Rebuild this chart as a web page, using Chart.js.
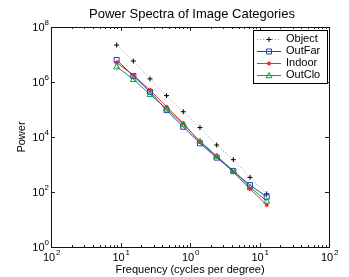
<!DOCTYPE html>
<html>
<head>
<meta charset="utf-8">
<script src="https://cdn.jsdelivr.net/npm/chart.js@4/dist/chart.umd.min.js"></script>
<style>
html, body { margin: 0; padding: 0; background: #fff; }
</style>
</head>
<body>
<canvas id="chart" width="349" height="277"></canvas>
<script>
// frequencies (cycles per degree) and power for each image category
const freq = [0.088, 0.153, 0.266, 0.46, 0.80, 1.39, 2.42, 4.2, 7.3, 12.7];
const objectPower = [2.2e7, 5.8e6, 1.3e6, 3.2e5, 8.3e4, 2.2e4, 5.1e3, 1.5e3, 340, 85];
const outFarPower = [6.3e6, 1.66e6, 4.4e5, 9.5e4, 2.35e4, 5.9e3, 1.78e3, 575, 178, 67];
const indoorPower = [5.0e6, 1.78e6, 5.1e5, 1.26e5, 3.16e4, 6.6e3, 1.95e3, 525, 129, 34];
const outCloPower = [3.6e6, 1.26e6, 3.55e5, 1.07e5, 2.9e4, 7.1e3, 2.04e3, 589, 148, 47];

const xTicks = [0.01, 0.1, 1, 10, 100];
const xTickExp = ['2', '1', '0', '1', '2'];
const yTicks = [1, 1e2, 1e4, 1e6, 1e8];
const yTickExp = ['0', '2', '4', '6', '8'];

const titleText = 'Power Spectra of Image Categories';
const xTitle = 'Frequency (cycles per degree)';
const yTitle = 'Power';

const FONT = '"Liberation Sans", Arial, Helvetica, sans-serif';

function pts(ys) {
    return freq.map((f, i) => ({ x: f, y: ys[i] }));
}

function marker(ctx, style, x, y, color) {
    ctx.save();
    ctx.strokeStyle = color;
    ctx.fillStyle = color;
    ctx.lineWidth = 1;
    ctx.setLineDash([]);
    ctx.beginPath();
    if (style === 'cross') {
        ctx.moveTo(x - 2.5, y); ctx.lineTo(x + 2.5, y);
        ctx.moveTo(x, y - 2.5); ctx.lineTo(x, y + 2.5);
        ctx.stroke();
    } else if (style === 'rect') {
        ctx.rect(x - 2.5, y - 2.5, 5, 5);
        ctx.stroke();
    } else if (style === 'circle') {
        ctx.arc(x, y, 2, 0, Math.PI * 2);
        ctx.fill();
    } else if (style === 'triangle') {
        ctx.moveTo(x, y - 3); ctx.lineTo(x + 3, y + 2.2); ctx.lineTo(x - 3, y + 2.2);
        ctx.closePath();
        ctx.stroke();
    }
    ctx.restore();
}

// tick marks, tick labels, titles, box and legend like a matlab figure
const matlabAxes = {
    id: 'matlabAxes',
    afterDraw(chart) {
        const ctx = chart.ctx;
        const a = chart.chartArea;
        const xs = chart.scales.x;
        const ys = chart.scales.y;
        ctx.save();
        ctx.strokeStyle = '#222';
        ctx.lineWidth = 1;
        ctx.setLineDash([]);

        // x ticks (major + minor), top and bottom
        ctx.beginPath();
        for (let n = -2; n < 2; n++) {
            for (let m = 1; m <= 9; m++) {
                const px = Math.round(xs.getPixelForValue(m * Math.pow(10, n))) + 0.5;
                const len = m === 1 ? 4 : 2;
                ctx.moveTo(px, a.bottom); ctx.lineTo(px, a.bottom - len);
                ctx.moveTo(px, a.top); ctx.lineTo(px, a.top + len);
            }
        }
        yTicks.forEach(v => {
            const py = Math.round(ys.getPixelForValue(v)) + 0.5;
            ctx.moveTo(a.left, py); ctx.lineTo(a.left + 4, py);
            ctx.moveTo(a.right, py); ctx.lineTo(a.right - 4, py);
        });
        ctx.stroke();

        // box
        ctx.strokeStyle = '#111';
        ctx.strokeRect(Math.round(a.left) + 0.5, Math.round(a.top) + 0.5,
            Math.round(a.right - a.left), Math.round(a.bottom - a.top));

        // tick labels with exponents
        ctx.fillStyle = '#000';
        ctx.textBaseline = 'middle';
        xTicks.forEach((v, i) => {
            const px = xs.getPixelForValue(v);
            ctx.font = '11px ' + FONT;
            const w = ctx.measureText('10').width;
            ctx.textAlign = 'left';
            ctx.fillText('10', px - w / 2 - 2, a.bottom + 11);
            ctx.font = '8px ' + FONT;
            ctx.fillText(xTickExp[i], px + w / 2 - 1, a.bottom + 6);
        });
        yTicks.forEach((v, i) => {
            const py = ys.getPixelForValue(v);
            ctx.font = '8px ' + FONT;
            const ew = ctx.measureText(yTickExp[i]).width;
            ctx.textAlign = 'right';
            ctx.fillText(yTickExp[i], a.left - 2, py - 4);
            ctx.font = '11px ' + FONT;
            ctx.fillText('10', a.left - 2 - ew, py + 1);
        });

        // titles
        const cx = (a.left + a.right) / 2;
        ctx.textAlign = 'center';
        ctx.font = '13px ' + FONT;
        ctx.fillText(titleText, cx + 2, 14);
        ctx.font = '11px ' + FONT;
        ctx.fillText(xTitle, cx, a.bottom + 23);
        ctx.save();
        ctx.translate(22, (a.top + a.bottom) / 2);
        ctx.rotate(-Math.PI / 2);
        ctx.fillText(yTitle, 0, 0);
        ctx.restore();

        // legend
        const lx = a.right - 76, ly = a.top + 3;
        ctx.fillStyle = '#fff';
        ctx.fillRect(lx, ly, 74, 53);
        ctx.strokeStyle = '#000';
        ctx.strokeRect(lx + 0.5, ly + 0.5, 74, 53);
        chart.data.datasets.forEach((ds, i) => {
            const ry = ly + 8.5 + i * 12.2;
            ctx.save();
            ctx.strokeStyle = ds.borderColor;
            ctx.lineWidth = ds.borderWidth;
            ctx.setLineDash(ds.borderDash || []);
            ctx.beginPath();
            ctx.moveTo(lx + 4, Math.round(ry) + 0.5);
            ctx.lineTo(lx + 28, Math.round(ry) + 0.5);
            ctx.stroke();
            ctx.restore();
            marker(ctx, ds.pointStyle, lx + 16, Math.round(ry) + 0.5, ds.pointBorderColor);
            ctx.fillStyle = '#000';
            ctx.font = '11px ' + FONT;
            ctx.textAlign = 'left';
            ctx.fillText(ds.label, lx + 33, ry);
        });
        ctx.restore();
    }
};

// draw markers ourselves so + and open shapes look like matlab
const matlabMarkers = {
    id: 'matlabMarkers',
    afterDatasetsDraw(chart) {
        const ctx = chart.ctx;
        chart.data.datasets.forEach((ds, i) => {
            chart.getDatasetMeta(i).data.forEach(pt => {
                marker(ctx, ds.pointStyle, pt.x, pt.y, ds.pointBorderColor);
            });
        });
    }
};

const chart = document.querySelector('#chart').getContext('2d');
new Chart(chart, {
    type: 'line',
    data: {
        datasets: [
            {
                label: 'Object',
                data: pts(objectPower),
                borderColor: '#9a9a9a',
                borderWidth: 1,
                borderDash: [1, 2],
                pointStyle: 'cross',
                pointBorderColor: '#000',
                pointRadius: 0,
            },
            {
                label: 'OutFar',
                data: pts(outFarPower),
                borderColor: '#2a3cb0',
                borderWidth: 1,
                pointStyle: 'rect',
                pointBorderColor: '#2a3cb0',
                pointRadius: 0,
            },
            {
                label: 'Indoor',
                data: pts(indoorPower),
                borderColor: '#ee2a2a',
                borderWidth: 1,
                pointStyle: 'circle',
                pointBorderColor: '#ee2a2a',
                pointRadius: 0,
            },
            {
                label: 'OutClo',
                data: pts(outCloPower),
                borderColor: '#00a550',
                borderWidth: 1,
                pointStyle: 'triangle',
                pointBorderColor: '#00a550',
                pointRadius: 0,
            }
        ]
    },
    options: {
        responsive: false,
        animation: false,
        layout: { padding: { left: 0, right: 20, top: 27, bottom: 0 } },
        plugins: {
            legend: { display: false },
            tooltip: { enabled: false },
            title: { display: false }
        },
        scales: {
            x: {
                type: 'logarithmic',
                min: 0.01,
                max: 100,
                afterFit(s) { s.height = 30; },
                grid: { display: false, drawTicks: false },
                border: { display: false },
                ticks: { display: false }
            },
            y: {
                type: 'logarithmic',
                min: 1,
                max: 1e8,
                afterFit(s) { s.width = 51; },
                grid: { display: false, drawTicks: false },
                border: { display: false },
                ticks: { display: false }
            }
        }
    },
    plugins: [matlabMarkers, matlabAxes]
});
</script>
</body>
</html>
